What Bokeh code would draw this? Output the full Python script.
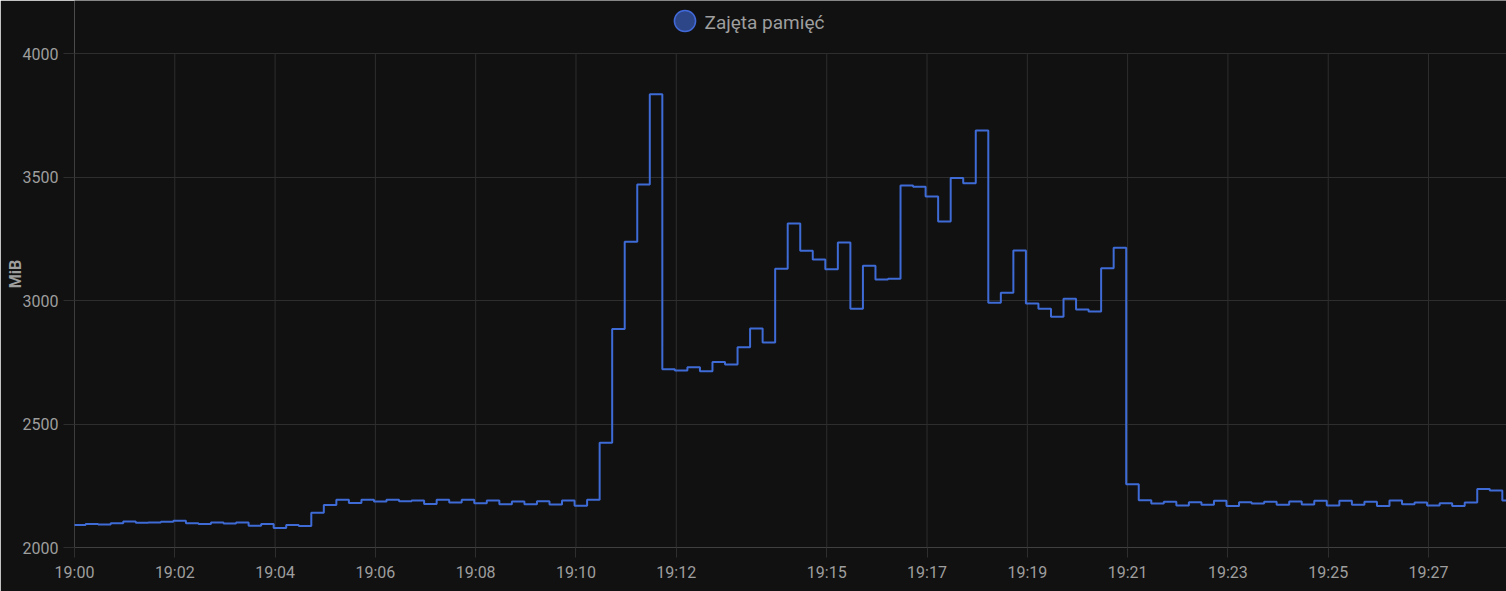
import pandas as pd
from bokeh.plotting import figure
from bokeh.models import (Range1d, FixedTicker, DatetimeTickFormatter, Legend,
                          LegendItem, Label)
from bokeh.embed import file_html
from bokeh.resources import INLINE

# ---------------- data ----------------
series_name = "Zajęta pamięć"
y_label = "MiB"
day = "2024-01-01"
first_sample = "18:59:58.300"
sample_seconds = 15
used_mib = [
    2091, 2095, 2093, 2098, 2105, 2100, 2101, 2104, 2108, 2098,
    2095, 2101, 2097, 2101, 2088, 2095, 2079, 2091, 2087, 2141,
    2172, 2194, 2180, 2194, 2186, 2193, 2187, 2190, 2176, 2193,
    2182, 2194, 2179, 2190, 2175, 2186, 2175, 2187, 2174, 2190,
    2169, 2193,
    2425, 2885, 3239, 3471, 3837, 2722, 2717, 2730, 2714, 2752,
    2742, 2812, 2887, 2831, 3130, 3313, 3203, 3167, 3128, 3236,
    2968, 3142, 3086, 3089, 3467, 3462, 3422, 3321, 3497, 3476,
    3690, 2992, 3032, 3204, 2989, 2968, 2935, 3008, 2964, 2956,
    3132, 3215, 2256, 2191, 2178, 2185, 2170, 2183, 2173, 2189,
    2168, 2183, 2178, 2185, 2173, 2186, 2174, 2189, 2170, 2189,
    2173, 2185, 2168, 2190, 2175, 2182, 2170, 2179, 2168, 2182,
    2237, 2231, 2190,
]
tick_labels = ["19:00", "19:02", "19:04", "19:06", "19:08", "19:10", "19:12",
               "19:15", "19:17", "19:19", "19:21", "19:23", "19:25", "19:27"]
y_ticks = [2000, 2500, 3000, 3500, 4000]
view_start = "19:00:00"
view_seconds = 1713.3
y_view_top = 4216.7   # headroom above the 4000 line for the legend
# --------------------------------------

def ms(ts):
    return pd.Timestamp(ts).value / 1e6

times = pd.date_range(pd.Timestamp(f"{day} {first_sample}"),
                      periods=len(used_mib) + 1, freq=f"{sample_seconds}s")
values = used_mib + [used_mib[-1]]

t0 = ms(f"{day} {view_start}")
tick_ms = [ms(f"{day} {t}") for t in tick_labels]

BG = "#111111"
GRID = "#2e2e2e"
TXT = "#9e9e9e"
LINE = "#3e6bd6"
FONT = "Roboto"

p = figure(width=1506, height=591, x_axis_type="datetime",
           output_backend="svg", toolbar_location=None,
           x_range=Range1d(t0, t0 + view_seconds * 1000),
           y_range=Range1d(y_ticks[0], y_view_top),
           min_border_left=74, min_border_right=0,
           min_border_top=0, min_border_bottom=44)
p.background_fill_color = BG
p.border_fill_color = BG
p.outline_line_color = None

# vertical grid lines, only between the lowest and highest y tick
p.segment(x0=tick_ms, x1=tick_ms,
          y0=[y_ticks[0]] * len(tick_ms), y1=[y_ticks[-1]] * len(tick_ms),
          line_color=GRID, line_width=1)

p.step(times, values, mode="after", line_color=LINE, line_width=2)
# legend swatch renderer: one point with no y value, so nothing is drawn in the plot
dummy = p.scatter(x=[times[0]], y=[float("nan")], marker="circle", size=20,
                  fill_color="#2d4688", line_color="#4169d8", line_width=1.5)

# x axis
xa = p.xaxis[0]
xa.ticker = FixedTicker(ticks=tick_ms)
xa.formatter = DatetimeTickFormatter(seconds="%H:%M", minsec="%H:%M",
                                     minutes="%H:%M", hourmin="%H:%M",
                                     hours="%H:%M")
xa.axis_line_color = "#404040"
xa.major_tick_line_color = GRID
xa.major_tick_out = 10
xa.major_tick_in = 0
xa.minor_tick_line_color = None
xa.major_label_text_font = FONT
xa.major_label_text_font_size = "16px"
xa.major_label_text_color = TXT
xa.major_label_standoff = 5

# y axis
ya = p.yaxis[0]
ya.ticker = FixedTicker(ticks=y_ticks)
ya.axis_line_color = None
ya.major_tick_line_color = GRID
ya.major_tick_out = 11
ya.major_tick_in = 0
ya.minor_tick_line_color = None
ya.major_label_text_font = FONT
ya.major_label_text_font_size = "16px"
ya.major_label_text_color = TXT
ya.major_label_standoff = 5
ya.axis_label = y_label
ya.axis_label_standoff = -5
ya.axis_label_text_font = FONT
ya.axis_label_text_font_size = "16px"
ya.axis_label_text_font_style = "bold"
ya.axis_label_text_color = TXT

p.xgrid.visible = False
p.ygrid.ticker = FixedTicker(ticks=y_ticks)
p.ygrid.grid_line_color = GRID

legend = Legend(items=[LegendItem(label=" ", renderers=[dummy])],
                location=(584, 500), orientation="horizontal",
                glyph_width=53, glyph_height=53, padding=0, margin=0,
                label_standoff=0, border_line_color=None,
                background_fill_alpha=0, label_text_font_size="1px")
p.add_layout(legend)

p.add_layout(Label(x=630, y=525, x_units="screen", y_units="screen",
                   text=series_name, text_align="left",
                   text_baseline="alphabetic", text_font=FONT,
                   text_font_size="19px", text_color=TXT))

open("out.html", "w").write(file_html(p, INLINE))
